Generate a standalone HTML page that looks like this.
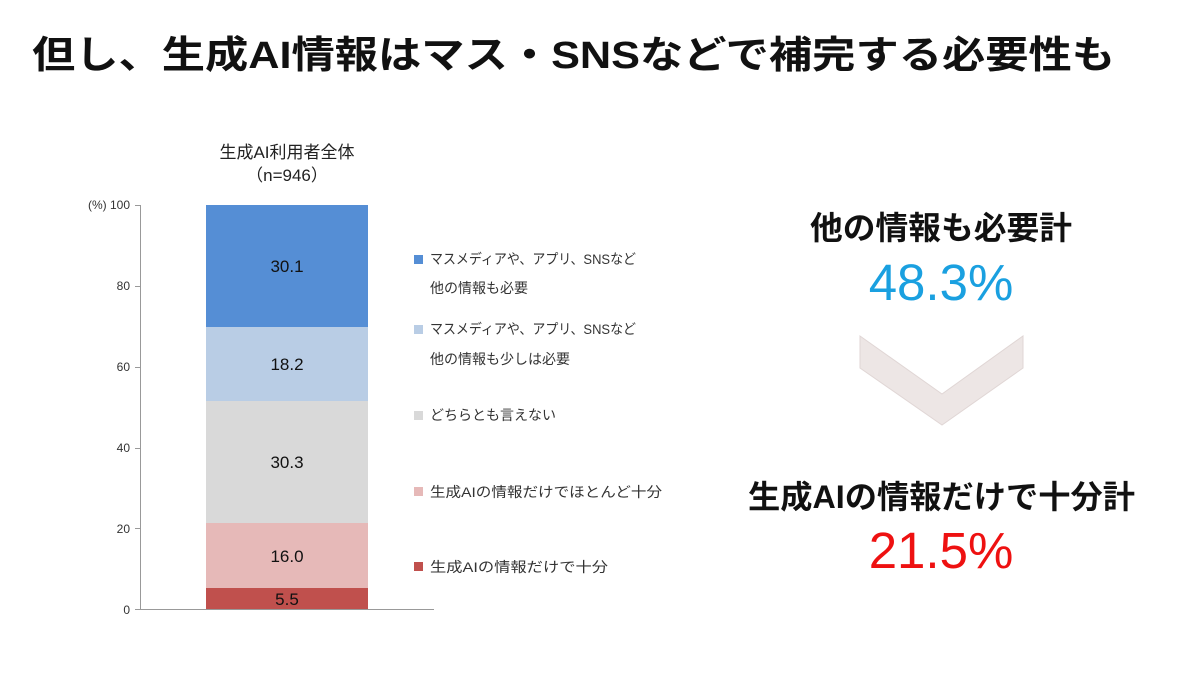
<!DOCTYPE html>
<html><head><meta charset="utf-8"><style>
body{margin:0;background:#fff;}
svg{display:block;font-family:"Liberation Sans","Noto Sans CJK JP",sans-serif;}
</style></head><body>
<svg width="1200" height="675" viewBox="0 0 1200 675" xmlns="http://www.w3.org/2000/svg">
<rect width="1200" height="675" fill="#fff"/>
<text x="32" y="68" font-size="38" font-weight="bold" fill="#111" textLength="1083" lengthAdjust="spacingAndGlyphs">但し、生成AI情報はマス・SNSなどで補完する必要性も</text>

<text x="287" y="158" font-size="17" fill="#222" text-anchor="middle">生成AI利用者全体</text>
<text x="287" y="181" font-size="17" fill="#222" text-anchor="middle">（n=946）</text>

<g font-size="12" fill="#333" text-anchor="end">
<text x="130" y="209">(%) 100</text>
<text x="130" y="290">80</text>
<text x="130" y="371">60</text>
<text x="130" y="452">40</text>
<text x="130" y="533">20</text>
<text x="130" y="614">0</text>
</g>
<g stroke="#999" stroke-width="1">
<line x1="140.5" y1="205" x2="140.5" y2="609"/>
<line x1="135" y1="205.5" x2="140" y2="205.5"/>
<line x1="135" y1="286.5" x2="140" y2="286.5"/>
<line x1="135" y1="367.5" x2="140" y2="367.5"/>
<line x1="135" y1="448.5" x2="140" y2="448.5"/>
<line x1="135" y1="528.5" x2="140" y2="528.5"/>
<line x1="135" y1="609.5" x2="434" y2="609.5"/>
</g>

<rect x="206" y="205" width="162" height="122" fill="#558ed5"/>
<rect x="206" y="327" width="162" height="74" fill="#b9cde5"/>
<rect x="206" y="401" width="162" height="122" fill="#d9d9d9"/>
<rect x="206" y="523" width="162" height="65" fill="#e6b9b8"/>
<rect x="206" y="588" width="162" height="21" fill="#c0504d"/>
<g font-size="17" fill="#111" text-anchor="middle">
<text x="287" y="272">30.1</text>
<text x="287" y="370">18.2</text>
<text x="287" y="468">30.3</text>
<text x="287" y="562">16.0</text>
<text x="287" y="605">5.5</text>
</g>

<g font-size="14" fill="#333">
<rect x="414" y="255" width="9" height="9" fill="#558ed5"/>
<text x="430" y="264" textLength="206" lengthAdjust="spacingAndGlyphs">マスメディアや、アプリ、SNSなど</text>
<text x="430" y="293">他の情報も必要</text>
<rect x="414" y="325" width="9" height="9" fill="#b9cde5"/>
<text x="430" y="334" textLength="206" lengthAdjust="spacingAndGlyphs">マスメディアや、アプリ、SNSなど</text>
<text x="430" y="364">他の情報も少しは必要</text>
<rect x="414" y="411" width="9" height="9" fill="#d9d9d9"/>
<text x="430" y="420">どちらとも言えない</text>
<rect x="414" y="487" width="9" height="9" fill="#e6b9b8"/>
<text x="430" y="497" textLength="232" lengthAdjust="spacingAndGlyphs">生成AIの情報だけでほとんど十分</text>
<rect x="414" y="562" width="9" height="9" fill="#c0504d"/>
<text x="430" y="572" textLength="178" lengthAdjust="spacingAndGlyphs">生成AIの情報だけで十分</text>
</g>

<text x="810" y="239" font-size="32" font-weight="bold" fill="#111" textLength="262" lengthAdjust="spacingAndGlyphs">他の情報も必要計</text>
<text x="941" y="300" font-size="51" fill="#1aa0e0" text-anchor="middle">48.3%</text>
<polygon points="860,336 942,394 1023,336 1023,368 942,425 860,368" fill="#ede6e5" stroke="#e0d6d5" stroke-width="1"/>
<text x="748" y="508" font-size="32" font-weight="bold" fill="#111" textLength="387" lengthAdjust="spacingAndGlyphs">生成AIの情報だけで十分計</text>
<text x="941" y="568" font-size="51" fill="#ee1111" text-anchor="middle">21.5%</text>
</svg>
</body></html>
